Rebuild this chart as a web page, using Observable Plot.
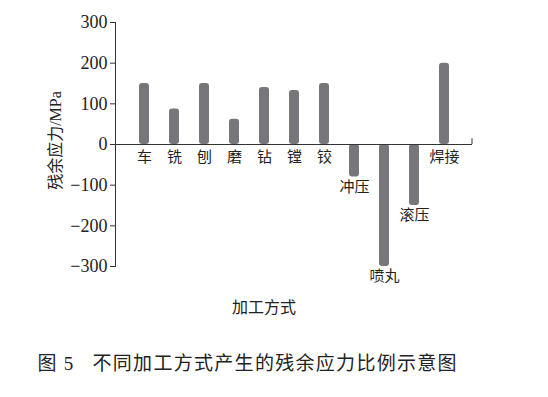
<!DOCTYPE html>
<html><head><meta charset="utf-8">
<script src="https://cdn.jsdelivr.net/npm/d3@7"></script>
<script src="https://cdn.jsdelivr.net/npm/@observablehq/plot@0.6"></script>
<style>
body{margin:0;background:#fff;}
#chart svg{overflow:visible}
.cap text{letter-spacing:1.3px}
</style></head><body><div id="chart"></div>
<script>
const categories = ["车","铣","刨","磨","钻","镗","铰","冲压","喷丸","滚压","焊接"];
const values = [150, 87, 150, 62, 140, 133, 150, -80, -300, -150, 200];
const yTicks = [-300, -200, -100, 0, 100, 200, 300];
const yTitle = "残余应力/MPa";
const xTitle = "加工方式";
const capNum = "图 5";
const capText = "不同加工方式产生的残余应力比例示意图";

const data = categories.map((c, i) => ({c, v: values[i]}));
const FONT = "Liberation Serif, Noto Sans CJK SC, serif";

const endTick = (index, scales, values, dims) => {
  const x = dims.width - dims.marginRight;
  const l = d3.create("svg:line")
    .attr("x1", x).attr("x2", x)
    .attr("y1", scales.y(0)).attr("y2", scales.y(14))
    .attr("stroke", "#333").attr("stroke-width", 1);
  return l.node();
};

const chart = Plot.plot({
  width: 548,
  height: 397,
  marginLeft: 115,
  marginRight: 76,
  marginTop: 22,
  marginBottom: 131,
  style: {background: "#fff", color: "#222", fontFamily: FONT},
  x: {domain: categories, range: [129, 459], padding: 0, axis: null},
  y: {domain: [-300, 300], axis: null},
  marks: [
    Plot.barY(data, {x: "c", y: "v", fill: "#77777b", insetLeft: 10, insetRight: 10, rx: 3}),
    Plot.ruleY([0], {stroke: "#333", strokeWidth: 1}),
    Plot.frame({anchor: "left", stroke: "#333", strokeWidth: 1}),
    endTick,
    Plot.axisY({ticks: yTicks, tickSize: 5, tickPadding: 3, fontSize: 18, fontFamily: FONT, stroke: "#333", fill: "#222", label: null, tickFormat: d => d < 0 ? "\u2212" + Math.abs(d) : String(d)}),
    Plot.text(data.filter(d => d.v >= 0), {x: "c", y: () => 0, text: "c", lineAnchor: "top", dy: 7, fontSize: 15, fontFamily: FONT, fill: "#222"}),
    Plot.text(data.filter(d => d.v < 0), {x: "c", y: "v", text: "c", lineAnchor: "top", dy: 4, fontSize: 15, fontFamily: FONT, fill: "#222"}),
    Plot.text([yTitle], {frameAnchor: "left", textAnchor: "middle", rotate: -90, dx: -60, dy: -4, fontSize: 16, fontFamily: FONT, fill: "#222"}),
    Plot.text([xTitle], {frameAnchor: "bottom", dx: -30, dy: 46, fontSize: 16, fontFamily: FONT, fill: "#222"}),
    Plot.text([capNum], {frameAnchor: "bottom-left", dx: -78, dy: 103, textAnchor: "start", fontSize: 19, fontFamily: FONT, fill: "#222", className: "cap"}),
    Plot.text([capText], {frameAnchor: "bottom-left", dx: -23, dy: 103, textAnchor: "start", fontSize: 19, fontFamily: FONT, fill: "#222", className: "cap"})
  ]
});
document.getElementById("chart").appendChild(chart);
</script></body></html>
